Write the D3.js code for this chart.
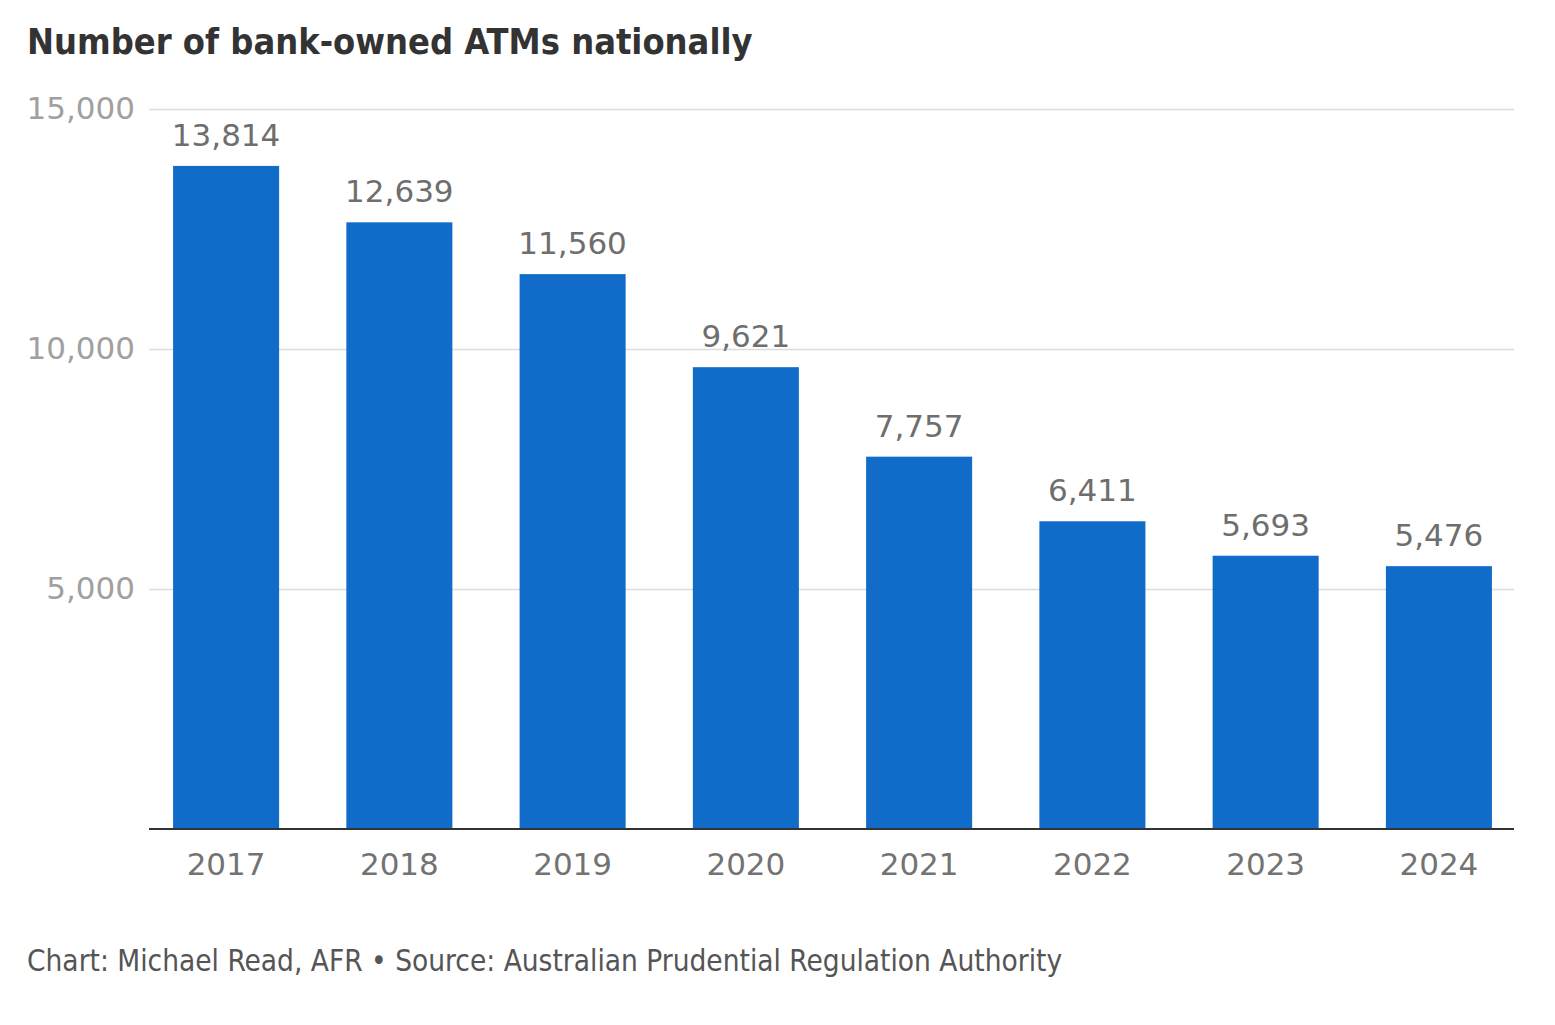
<!DOCTYPE html>
<html>
<head>
<meta charset="utf-8">
<script src="https://cdn.jsdelivr.net/npm/d3@7"></script>
<style>
  html, body { margin: 0; padding: 0; background: #fff; }
  svg { display: block; }
</style>
</head>
<body>
<svg id="chart" width="1555" height="1025"></svg>
<script>
const years = ["2017", "2018", "2019", "2020", "2021", "2022", "2023", "2024"];
const atms = [13814, 12639, 11560, 9621, 7757, 6411, 5693, 5476];
const yTicks = [5000, 10000, 15000];
const titleText = "Number of bank-owned ATMs nationally";
const footerText = "Chart: Michael Read, AFR \u2022 Source: Australian Prudential Regulation Authority";

(function () {
const svg = d3.select("#chart");
const mLeft = 149, mRight = 1514, mTop = 109, mBottom = 829;
const fmt = d3.format(",");

const x = d3.scaleBand().domain(years).range([mLeft, mRight + 2]).paddingInner(0.388).paddingOuter(0.139);
const y = d3.scaleLinear().domain([0, 15000]).range([mBottom, mTop]);

// title
svg.append("text")
  .attr("x", 27).attr("y", 54)
  .attr("font-family", "DejaVu Sans Condensed, DejaVu Sans")
  .attr("font-stretch", "condensed")
  .attr("font-weight", "bold")
  .attr("font-size", 35.9)
  .attr("fill", "#333333")
  .text(titleText);

// gridlines + y labels
const yAxis = d3.axisLeft(y).tickValues(yTicks).tickSize(-(mRight - mLeft)).tickFormat(fmt).tickPadding(14);
const gy = svg.append("g").attr("transform", `translate(${mLeft},0)`).call(yAxis);
gy.select(".domain").remove();
gy.selectAll(".tick line").attr("stroke", "#dcdcdc").attr("stroke-width", 1.5);
gy.selectAll(".tick text")
  .attr("font-family", "DejaVu Sans")
  .attr("font-size", 31)
  .attr("fill", "#a0a0a0");

// bars
svg.append("g").selectAll("rect").data(atms).join("rect")
  .attr("x", (d, i) => x(years[i]))
  .attr("width", x.bandwidth())
  .attr("y", d => y(d))
  .attr("height", d => y(0) - y(d))
  .attr("fill", "#106cc8");

// value labels
svg.append("g").selectAll("text").data(atms).join("text")
  .attr("x", (d, i) => x(years[i]) + x.bandwidth() / 2)
  .attr("y", d => y(d) - 20)
  .attr("text-anchor", "middle")
  .attr("font-family", "DejaVu Sans")
  .attr("font-size", 31)
  .attr("fill", "#6e6e6e")
  .text(d => fmt(d));

// x axis
const xAxis = d3.axisBottom(x).tickSize(0).tickPadding(24);
const gx = svg.append("g").attr("transform", `translate(0,${mBottom})`).call(xAxis);
gx.select(".domain").attr("stroke", "#333333").attr("stroke-width", 2)
  .attr("d", `M${mLeft},0H${mRight}`);
gx.selectAll(".tick text")
  .attr("font-family", "DejaVu Sans")
  .attr("font-size", 31)
  .attr("fill", "#737373");

// footer
svg.append("text")
  .attr("x", 27).attr("y", 971)
  .attr("font-family", "DejaVu Sans Condensed, DejaVu Sans")
  .attr("font-stretch", "condensed")
  .attr("font-size", 29.5)
  .attr("fill", "#555555")
  .text(footerText);
})();
</script>
</body>
</html>
